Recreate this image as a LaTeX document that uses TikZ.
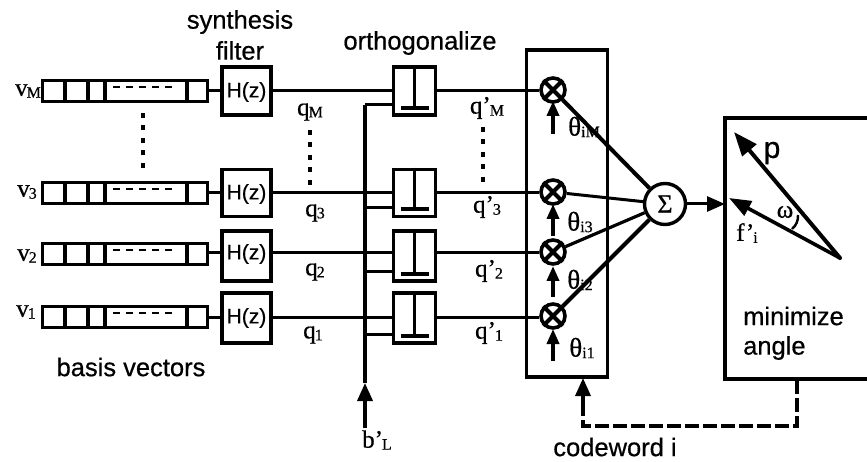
\documentclass[tikz,border=0pt]{standalone}
\usepackage{fontspec}
\setmainfont[FakeBold=0.6]{Liberation Serif}
\newfontfamily\lab[FakeBold=0.6]{Liberation Sans}
\usetikzlibrary{arrows.meta,calc}
\tikzset{
  x=1pt,y=-1pt,
  tip/.style={-{Triangle[length=18pt,width=15pt]}},
  wire/.style={line width=3pt},
  boxb/.style={draw,line width=3.6pt,inner sep=0pt,minimum width=49pt,minimum height=46pt},
  perpb/.style={draw,line width=3.6pt,inner sep=0pt,minimum width=42pt,minimum height=47pt},
  bar/.style={draw,line width=3.4pt,inner sep=0pt,minimum width=165pt,minimum height=21pt},
  mul/.style={draw,circle,line width=3.6pt,inner sep=0pt,minimum size=24pt},
  sumc/.style={draw,circle,line width=3.4pt,inner sep=0pt,minimum size=41pt,font=\fontsize{26}{26}\selectfont},
  frame/.style={line width=3.2pt},
  sans/.style={font=\lab\fontsize{25.5}{31}\selectfont,inner sep=0pt,align=center},
  mathl/.style={font=\fontsize{25}{25}\selectfont,inner sep=0pt},
  dots/.style={line width=4.6pt,dash pattern=on 5pt off 7.5pt},
}
\newcommand{\subt}[2]{#1\kern-1pt\raisebox{-2pt}{\fontsize{16}{16}\selectfont #2}}
\newcommand{\subth}[2]{{\fontsize{27}{27}\selectfont #1}\raisebox{-1.5pt}{\fontsize{16}{16}\selectfont #2}}
\begin{document}
\begin{tikzpicture}
\useasboundingbox (0,0) rectangle (867,462);
% frames
\node[draw,frame,inner sep=0pt,minimum width=81pt,minimum height=327pt] (cb) at (567,213.5) {};
\coordinate (mbtl) at (725,118);
\coordinate (mbbl) at (725,379);
\coordinate (mbtr) at (870,118);
\coordinate (mbbr) at (870,379);
\draw[frame] (mbtr) -- (mbtl) -- (mbbl) -- (mbbr);
% rows
\foreach \n/\bary/\hy/\hh/\wy/\by in {M/91/91/48/91/105,3/193/193/47/193/208,2/254/256/50/253/272,1/317/318/50/317/334}{
  \node[bar] (bar\n) at (125,\bary) {};
  \foreach \dx in {65,88,105,187}{ \draw[line width=3.2pt] (\dx,\bary-10) -- (\dx,\bary+10); }
  \draw[line width=2.8pt,dash pattern=on 6.5pt off 6.5pt] (113,\bary-4) -- (175,\bary-4);
  \node[boxb,minimum height=\hh pt] (h\n) at (246.5,\hy) {};
  \node[font=\lab\fontsize{21}{21}\selectfont,inner sep=0pt] at (246.5,\wy+1) {H(z)};
  \node[perpb,minimum height=\hh pt] (p\n) at (414.5,\hy) {};
  \coordinate (bot\n) at ($(p\n.south)+(0,-9)$);
  \draw[line width=3.6pt] (p\n.north) -- (bot\n);
  \draw[line width=3.6pt] ($(bot\n)+(-14,0)$) -- ($(bot\n)+(14,0)$);
  \draw[wire] (bar\n.east |- 0,\wy) -- (h\n.west |- 0,\wy);
  \coordinate (inL\n) at (p\n.west |- 0,\wy);
  \draw[wire] (h\n.east |- 0,\wy) -- (inL\n);
  \node[mul] (m\n) at (553,\wy-1) {};
  \draw[wire] (p\n.east |- 0,\wy) -- (m\n.west |- 0,\wy);
  \draw[line width=4.2pt] (m\n.45) -- (m\n.225) (m\n.135) -- (m\n.315);
  \coordinate (br\n) at (p\n.west |- 0,\by);
  \coordinate (v\n) at (365,\by);
  \draw[wire] (v\n) -- (br\n);
}
\coordinate (bLs) at (365,428);
\coordinate (bLe) at (365,383);
\draw[line width=3.2pt] (vM) -- (bLe);
\draw[line width=3.6pt,tip] (bLs) -- (bLe);
% sum
\node[sumc] (sum) at (665,204) {Σ};
\draw[line width=4pt] (mM) -- (sum);
\draw[line width=3pt] (m3) -- (sum);
\draw[line width=3.2pt] (m2) -- (sum);
\draw[line width=4pt] (m1) -- (sum);
\draw[wire,tip] (sum) -- (mbtl |- sum);
% theta arrows
\foreach \n/\a/\b in {M/134/101,3/236/204,2/297/266,1/361/329}{
  \coordinate (ts\n) at (553,\a);
  \coordinate (te\n) at (553,\b);
  \draw[line width=3.6pt,-{Triangle[length=15pt,width=12pt]}] (ts\n) -- (te\n);
}
% angle
\coordinate (apex) at (840,258);
\coordinate (ptip) at (734,132);
\coordinate (ftip) at (729,198);
\draw[line width=4pt,line cap=round,-{Triangle[length=24pt,width=18pt]}] (apex) -- (ptip);
\draw[line width=3.6pt,line cap=round,-{Triangle[length=22pt,width=16pt]}] (apex) -- (ftip);
\draw[line width=2.4pt] (798,215) to[bend left=25] (792,229);
% dashed feedback
\coordinate (fb1) at (583,426);
\coordinate (fb2) at (797,426);
\coordinate (fb0) at (797,380);
\coordinate (cbt) at (583,404);
\coordinate (cbb) at (583,378);
\draw[line width=3.4pt,dash pattern=on 14pt off 4pt] (fb0) -- (fb2) -- (fb1) -- (cbt);
\draw[line width=3.4pt,tip] (cbt) -- (cbb);
% dots
\coordinate (d1a) at (143,113);
\coordinate (d1b) at (143,172);
\draw[dots] (d1a) -- (d1b);
\coordinate (d2a) at (310,130);
\coordinate (d2b) at (310,187);
\draw[dots] (d2a) -- (d2b);
\coordinate (d3a) at (483,127);
\coordinate (d3b) at (483,185);
\draw[dots] (d3a) -- (d3b);
% sans text
\node[sans] at (240,35) {synthesis\\filter};
\node[sans] at (420,43) {orthogonalize};
\node[sans] at (131,367) {basis vectors};
\node[sans,anchor=west] at (743,316) {minimize};
\node[sans,anchor=west] at (743,348) {angle};
\node[sans] at (615,447) {codeword i};
% symbols
\node[mathl] at (28,91) {\subt{v}{M}};
\node[mathl] at (27,192) {\subt{v}{3}};
\node[mathl] at (27,256) {\subt{v}{2}};
\node[mathl] at (26,312) {\subt{v}{1}};
\node[mathl] at (310,112) {\subt{q}{M}};
\node[mathl] at (315,213) {\subt{q}{3}};
\node[mathl] at (315,272) {\subt{q}{2}};
\node[mathl] at (313,335) {\subt{q}{1}};
\node[mathl] at (487,108) {\subt{q'}{M}};
\node[mathl] at (487,207) {\subt{q'}{3}};
\node[mathl] at (489,271) {\subt{q'}{2}};
\node[mathl] at (489,333) {\subt{q'}{1}};
\node[mathl] at (584,127) {\subth{θ}{iM}};
\node[mathl] at (580,222) {\subth{θ}{i3}};
\node[mathl] at (580,280) {\subth{θ}{i2}};
\node[mathl] at (582,348) {\subth{θ}{i1}};
\node[mathl] at (377,440) {\subt{b'}{L}};
\node[mathl] at (747,233) {\subt{f'}{i}};
\node[font=\fontsize{25}{25}\selectfont,inner sep=0pt] at (785,212) {ω};
\node[font=\lab\fontsize{30}{30}\selectfont,inner sep=0pt] at (772,153) {p};
\end{tikzpicture}
\end{document}
